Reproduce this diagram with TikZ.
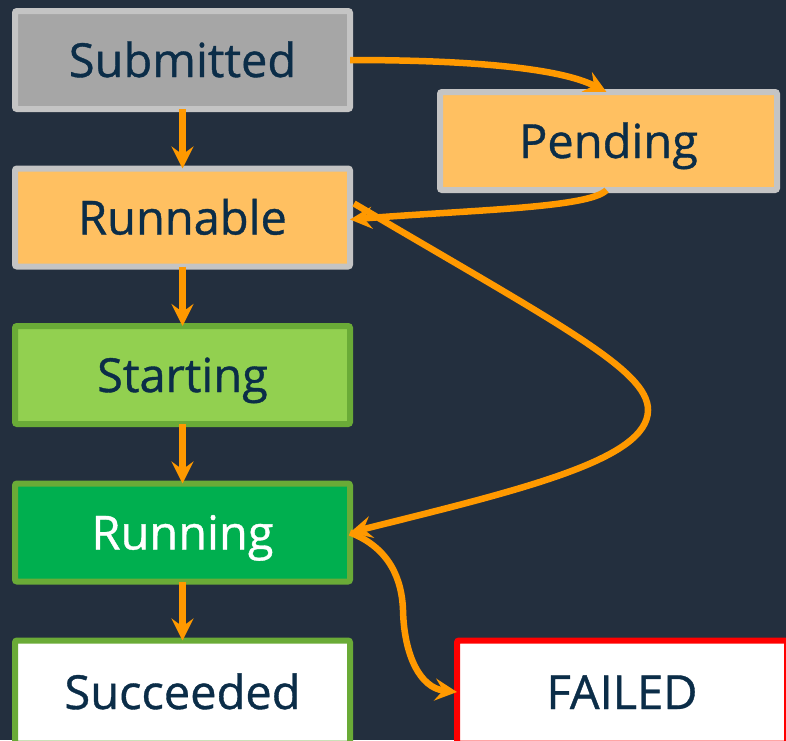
\documentclass[tikz,border=0pt]{standalone}
\usepackage{fontspec}
\setmainfont{Open Sans}
\newfontfamily\statefont{Open Sans}[FakeBold=0.8]
\usetikzlibrary{arrows.meta}

\definecolor{bgnavy}{HTML}{232F3E}
\definecolor{inkblue}{HTML}{0B2D48}
\definecolor{boxgray}{HTML}{A6A6A6}
\definecolor{rimgray}{HTML}{C4C4C4}
\definecolor{amber}{HTML}{FFC061}
\definecolor{lime}{HTML}{92D050}
\definecolor{rimgreen}{HTML}{6AAB37}
\definecolor{rungreen}{HTML}{00AF4F}
\definecolor{flow}{HTML}{FF9900}
\definecolor{failred}{HTML}{FF0000}

\tikzset{
  x=1pt, y=-1pt,
  state/.style={rectangle, rounded corners=2pt, line width=6pt, outer sep=0pt,
    minimum width=335pt, minimum height=98pt, inner sep=0pt,
    text height=34pt, text depth=0pt,
    font=\statefont\fontsize{47}{52}\selectfont, text=inkblue},
  graystate/.style={state, draw=rimgray, fill=boxgray},
  amberstate/.style={state, draw=rimgray, fill=amber},
  limestate/.style={state, draw=rimgreen, fill=lime},
  runstate/.style={state, draw=rimgreen, fill=rungreen, text=white},
  donestate/.style={state, draw=rimgreen, fill=white},
  failstate/.style={state, draw=failred, fill=white},
  flowline/.style={draw=flow, line width=6.5pt,
    -{Stealth[length=22pt, width=22pt, inset=8pt]}},
}

\begin{document}
\begin{tikzpicture}
  \useasboundingbox (0,0) rectangle (786,740);
  \clip (0,0) rectangle (786,740);
  \fill[bgnavy] (0,0) rectangle (786,740);

  % states
  \node[graystate]  (submitted) at (182.5,60)  {Submitted};
  \node[amberstate] (runnable)  at (182.5,217.5) {Runnable};
  \node[limestate]  (starting)  at (182.5,375) {Starting};
  \node[runstate]   (running)   at (182.5,532.5) {Running};
  \node[donestate, minimum height=103pt]  (succeeded) at (182.5,692) {Succeeded};
  \node[amberstate, minimum width=337pt] (pending) at (608.5,141) {Pending};
  \node[failstate, minimum width=330pt, minimum height=103pt] (failed) at (622,692) {FAILED};

  % main sequence
  \draw[flowline] (submitted.south) -- (runnable.north);
  \draw[flowline] (runnable.south) -- (starting.north);
  \draw[flowline] (starting.south) -- (running.north);
  \draw[flowline] (running.south) -- (succeeded.north);

  % side transitions
  \coordinate (subout)  at (submitted.east);
  \coordinate (pendin)  at ([xshift=-2pt]pending.north);
  \coordinate (pendout) at ([xshift=-2pt]pending.south);
  \coordinate (runin)   at ([yshift=-2pt]runnable.east);
  \coordinate (runout)  at ([xshift=4pt,yshift=14pt]runnable.east);
  \coordinate (bend)    at (648,410);
  \coordinate (fork)    at (403,610);

  \draw[flowline] (subout) .. controls (470,60) and (560,68) .. (pendin);
  \draw[flowline] (pendout) .. controls (590,208) and (470,210) .. (runin);
  \draw[flowline] (runout) .. controls (560,325) and (648,370) .. (bend)
                           .. controls (648,460) and (520,490) .. (running.east);
  \draw[flowline] (running.east) .. controls (390,548) and (402,580) .. (fork)
                                 .. controls (404,655) and (420,688) .. (failed.west);
\end{tikzpicture}
\end{document}
